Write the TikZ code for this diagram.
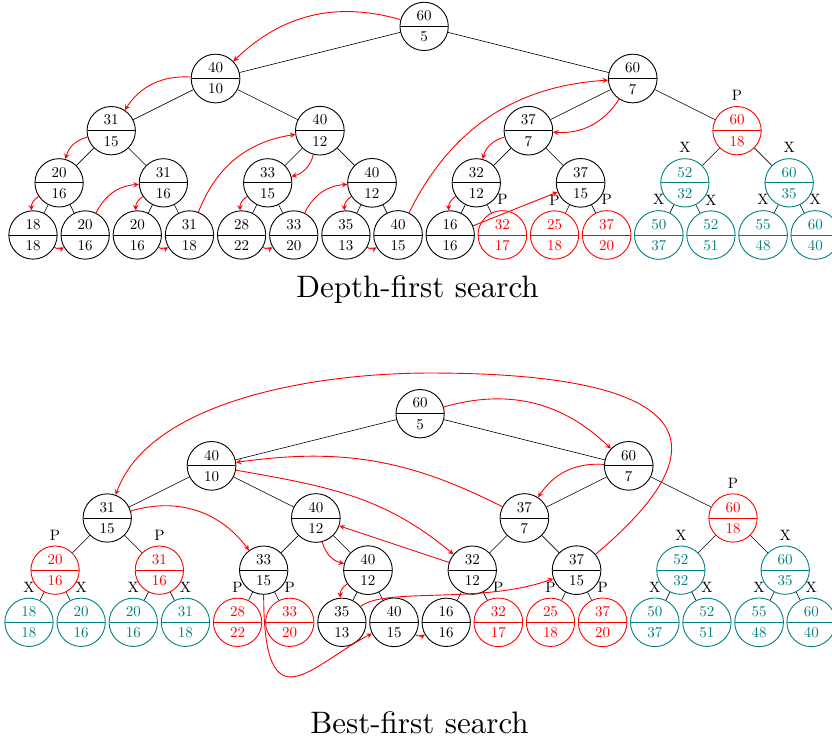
\documentclass[tikz,border=0pt]{standalone}
\usetikzlibrary{shapes.multipart}

\begin{document}
\begin{tikzpicture}[x=34.77pt, y=34.77pt]

    % --- Grundeinstellungen für Styles ---
    % Knoten: Kreis mit Trennlinie (obere Schranke / untere Schranke)
    \tikzset{
        treenode/.style={circle split, draw, semithick, minimum size=29.5pt, inner sep=0.3333em},
        pruned/.style={treenode, draw=red, text=red, label={[text=black]above:P}},
        skipped/.style={treenode, draw=teal, text=teal, label={[text=black]above:X}},
        visit/.style={-stealth, red, semithick},
        title/.style={scale=2.07, anchor=base}
    }

    % Rahmen wie im Original (rechter Rand schneidet die letzten Blätter ab)
    \useasboundingbox (-0.633, -9.645) rectangle (15.321, 4.506);

    % --- 1. Tiefensuche (oben) ---

    % Wurzel und erste Ebene
    \node[treenode] (d1) at (7.5, 4) {60\nodepart{lower}5};
    \node[treenode] (d2) at (3.5, 3) {40\nodepart{lower}10};
    \node[treenode] (d3) at (11.5, 3) {60\nodepart{lower}7};

    % Zweite Ebene
    \node[treenode] (d4) at (1.5, 2) {31\nodepart{lower}15};
    \node[treenode] (d5) at (5.5, 2) {40\nodepart{lower}12};
    \node[treenode] (d6) at (9.5, 2) {37\nodepart{lower}7};
    \node[pruned] (d7) at (13.5, 2) {60\nodepart{lower}18};

    % Dritte Ebene
    \node[treenode] (d8) at (0.5, 1) {20\nodepart{lower}16};
    \node[treenode] (d9) at (2.5, 1) {31\nodepart{lower}16};
    \node[treenode] (d10) at (4.5, 1) {33\nodepart{lower}15};
    \node[treenode] (d11) at (6.5, 1) {40\nodepart{lower}12};
    \node[treenode] (d12) at (8.5, 1) {32\nodepart{lower}12};
    \node[treenode] (d13) at (10.5, 1) {37\nodepart{lower}15};
    \node[skipped] (d14) at (12.5, 1) {52\nodepart{lower}32};
    \node[skipped] (d15) at (14.5, 1) {60\nodepart{lower}35};

    % Blätter
    \node[treenode] (d16) at (0, 0) {18\nodepart{lower}18};
    \node[treenode] (d17) at (1, 0) {20\nodepart{lower}16};
    \node[treenode] (d18) at (2, 0) {20\nodepart{lower}16};
    \node[treenode] (d19) at (3, 0) {31\nodepart{lower}18};
    \node[treenode] (d20) at (4, 0) {28\nodepart{lower}22};
    \node[treenode] (d21) at (5, 0) {33\nodepart{lower}20};
    \node[treenode] (d22) at (6, 0) {35\nodepart{lower}13};
    \node[treenode] (d23) at (7, 0) {40\nodepart{lower}15};
    \node[treenode] (d24) at (8, 0) {16\nodepart{lower}16};
    \node[pruned] (d25) at (9, 0) {32\nodepart{lower}17};
    \node[pruned] (d26) at (10, 0) {25\nodepart{lower}18};
    \node[pruned] (d27) at (11, 0) {37\nodepart{lower}20};
    \node[skipped] (d28) at (12, 0) {50\nodepart{lower}37};
    \node[skipped] (d29) at (13, 0) {52\nodepart{lower}51};
    \node[skipped] (d30) at (14, 0) {55\nodepart{lower}48};
    \node[skipped] (d31) at (15, 0) {60\nodepart{lower}40};

    % Kanten des Baums
    \draw (d1) -- (d2) (d1) -- (d3);
    \draw (d2) -- (d4) (d2) -- (d5);
    \draw (d3) -- (d6) (d3) -- (d7);
    \draw (d4) -- (d8) (d4) -- (d9);
    \draw (d5) -- (d10) (d5) -- (d11);
    \draw (d6) -- (d12) (d6) -- (d13);
    \draw (d7) -- (d14) (d7) -- (d15);
    \draw (d8) -- (d16) (d8) -- (d17);
    \draw (d9) -- (d18) (d9) -- (d19);
    \draw (d10) -- (d20) (d10) -- (d21);
    \draw (d11) -- (d22) (d11) -- (d23);
    \draw (d12) -- (d24) (d12) -- (d25);
    \draw (d13) -- (d26) (d13) -- (d27);
    \draw (d14) -- (d28) (d14) -- (d29);
    \draw (d15) -- (d30) (d15) -- (d31);

    % Besuchsreihenfolge (rote Pfeile)
    \draw[visit] (d1) to[bend right] (d2);
    \draw[visit] (d2) to[bend right] (d4);
    \draw[visit] (d4) to[bend right] (d8);
    \draw[visit] (d8) to[bend right] (d16);
    \draw[visit] (d16) to[bend right] (d17);
    \draw[visit] (d17) to[bend left] (d9);
    \draw[visit] (d9) to[bend right] (d18);
    \draw[visit] (d18) to[bend right] (d19);
    \draw[visit] (d19) to[bend left] (d5);
    \draw[visit] (d5) to[bend left] (d10);
    \draw[visit] (d10) to[bend right] (d20);
    \draw[visit] (d20) to[bend right] (d21);
    \draw[visit] (d21) to[bend left] (d11);
    \draw[visit] (d11) to[bend right] (d22);
    \draw[visit] (d22) to[bend right] (d23);
    \draw[visit] (d23) to[bend left] (d3);
    \draw[visit] (d3) to[bend left] (d6);
    \draw[visit] (d6) to[bend right] (d12);
    \draw[visit] (d12) to[bend right] (d24);
    \draw[visit] (d24) -- (d13);

    \node[title] (dfstitle) at (7.373, -1.195) {Depth-first search};

    % --- 2. Bestensuche (unten, leicht nach links versetzt) ---
    \begin{scope}[shift={(-0.077, -7.427)}]

    \node[treenode] (b1) at (7.5, 4) {60\nodepart{lower}5};
    \node[treenode] (b2) at (3.5, 3) {40\nodepart{lower}10};
    \node[treenode] (b3) at (11.5, 3) {60\nodepart{lower}7};

    \node[treenode] (b4) at (1.5, 2) {31\nodepart{lower}15};
    \node[treenode] (b5) at (5.5, 2) {40\nodepart{lower}12};
    \node[treenode] (b6) at (9.5, 2) {37\nodepart{lower}7};
    \node[pruned] (b7) at (13.5, 2) {60\nodepart{lower}18};

    \node[pruned] (b8) at (0.5, 1) {20\nodepart{lower}16};
    \node[pruned] (b9) at (2.5, 1) {31\nodepart{lower}16};
    \node[treenode] (b10) at (4.5, 1) {33\nodepart{lower}15};
    \node[treenode] (b11) at (6.5, 1) {40\nodepart{lower}12};
    \node[treenode] (b12) at (8.5, 1) {32\nodepart{lower}12};
    \node[treenode] (b13) at (10.5, 1) {37\nodepart{lower}15};
    \node[skipped] (b14) at (12.5, 1) {52\nodepart{lower}32};
    \node[skipped] (b15) at (14.5, 1) {60\nodepart{lower}35};

    \node[skipped] (b16) at (0, 0) {18\nodepart{lower}18};
    \node[skipped] (b17) at (1, 0) {20\nodepart{lower}16};
    \node[skipped] (b18) at (2, 0) {20\nodepart{lower}16};
    \node[skipped] (b19) at (3, 0) {31\nodepart{lower}18};
    \node[pruned] (b20) at (4, 0) {28\nodepart{lower}22};
    \node[pruned] (b21) at (5, 0) {33\nodepart{lower}20};
    \node[treenode] (b22) at (6, 0) {35\nodepart{lower}13};
    \node[treenode] (b23) at (7, 0) {40\nodepart{lower}15};
    \node[treenode] (b24) at (8, 0) {16\nodepart{lower}16};
    \node[pruned] (b25) at (9, 0) {32\nodepart{lower}17};
    \node[pruned] (b26) at (10, 0) {25\nodepart{lower}18};
    \node[pruned] (b27) at (11, 0) {37\nodepart{lower}20};
    \node[skipped] (b28) at (12, 0) {50\nodepart{lower}37};
    \node[skipped] (b29) at (13, 0) {52\nodepart{lower}51};
    \node[skipped] (b30) at (14, 0) {55\nodepart{lower}48};
    \node[skipped] (b31) at (15, 0) {60\nodepart{lower}40};

    % Kanten des Baums
    \draw (b1) -- (b2) (b1) -- (b3);
    \draw (b2) -- (b4) (b2) -- (b5);
    \draw (b3) -- (b6) (b3) -- (b7);
    \draw (b4) -- (b8) (b4) -- (b9);
    \draw (b5) -- (b10) (b5) -- (b11);
    \draw (b6) -- (b12) (b6) -- (b13);
    \draw (b7) -- (b14) (b7) -- (b15);
    \draw (b8) -- (b16) (b8) -- (b17);
    \draw (b9) -- (b18) (b9) -- (b19);
    \draw (b10) -- (b20) (b10) -- (b21);
    \draw (b11) -- (b22) (b11) -- (b23);
    \draw (b12) -- (b24) (b12) -- (b25);
    \draw (b13) -- (b26) (b13) -- (b27);
    \draw (b14) -- (b28) (b14) -- (b29);
    \draw (b15) -- (b30) (b15) -- (b31);

    % Hilfspunkt für den großen Bogen über den Baum
    \coordinate (bogen) at (7.69, 4.78);

    % Besuchsreihenfolge nach kleinster unterer Schranke
    \draw[visit] (b1) to[bend left] (b3);
    \draw[visit] (b3) to[bend right] (b6);
    \draw[visit] (b6) to[out=153, in=8] (b2);
    \draw[visit] (b2) to[out=-10, in=140] (b12);
    \draw[visit] (b12) -- (b5);
    \draw[visit] (b5) to[bend right] (b11);
    \draw[visit] (b11) to[bend right] (b22);
    \draw[visit] (b22) to[out=40, in=200, out looseness=0.4] (b13);
    \draw[visit] (b13) to[out=40, in=0, looseness=2.2] (bogen)
                       to[out=180, in=70, out looseness=0.9, in looseness=0.75] (b4);
    \draw[visit] (b4) to[bend left=35] (b10);
    \draw[visit] (b10) to[out=-90, in=207, out looseness=3, in looseness=1.5] (b23);
    \draw[visit] (b23) to[bend right] (b24);

    \end{scope}

    \node[title] (bfstitle) at (7.411, -9.563) {Best-first search};

\end{tikzpicture}
\end{document}
